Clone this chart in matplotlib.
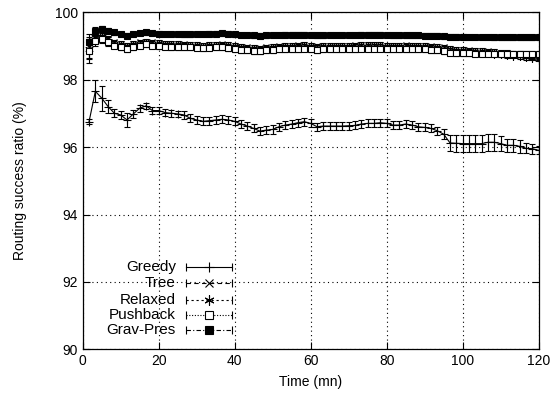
import numpy as np
import matplotlib
matplotlib.use("Agg")
import matplotlib.pyplot as plt

plt.rcParams['font.family'] = ['Liberation Sans', 'DejaVu Sans']

# sampling times (minutes)
times = [1.67, 3.33, 5.0, 6.67, 8.33, 10.0, 11.67, 13.33, 15.0, 16.67, 18.33, 20.0,
         21.67, 23.33, 25.0, 26.67, 28.33, 30.0, 31.67, 33.33, 35.0, 36.67, 38.33, 40.0,
         41.67, 43.33, 45.0, 46.67, 48.33, 50.0, 51.67, 53.33, 55.0, 56.67, 58.33, 60.0,
         61.67, 63.33, 65.0, 66.67, 68.33, 70.0, 71.67, 73.33, 75.0, 76.67, 78.33, 80.0,
         81.67, 83.33, 85.0, 86.67, 88.33, 90.0, 91.67, 93.33, 95.0, 96.67, 98.33, 100.0,
         101.67, 103.33, 105.0, 106.67, 108.33, 110.0, 111.67, 113.33, 115.0, 116.67, 118.33, 120.0]

greedy = [96.75, 97.65, 97.45, 97.2, 97.0, 96.95, 96.8, 96.98, 97.15, 97.22, 97.08, 97.08,
          97.02, 97.0, 96.98, 96.95, 96.85, 96.8, 96.76, 96.78, 96.8, 96.82, 96.8, 96.76,
          96.68, 96.62, 96.55, 96.47, 96.5, 96.52, 96.6, 96.65, 96.68, 96.72, 96.75, 96.7,
          96.6, 96.62, 96.62, 96.62, 96.62, 96.63, 96.64, 96.68, 96.7, 96.7, 96.72, 96.7,
          96.65, 96.65, 96.68, 96.65, 96.6, 96.58, 96.55, 96.48, 96.38, 96.12, 96.11, 96.1,
          96.1, 96.1, 96.1, 96.14, 96.14, 96.1, 96.05, 96.05, 96.02, 95.96, 95.95, 95.9]
greedy_err = [0.08, 0.33, 0.37, 0.2, 0.12, 0.12, 0.22, 0.12, 0.1, 0.08, 0.1, 0.1,
              0.1, 0.1, 0.1, 0.12, 0.12, 0.12, 0.12, 0.12, 0.12, 0.12, 0.12, 0.12,
              0.12, 0.12, 0.12, 0.12, 0.12, 0.12, 0.12, 0.12, 0.12, 0.12, 0.12, 0.12,
              0.12, 0.12, 0.12, 0.12, 0.12, 0.12, 0.12, 0.12, 0.12, 0.12, 0.12, 0.12,
              0.12, 0.12, 0.12, 0.12, 0.12, 0.12, 0.12, 0.12, 0.15, 0.25, 0.25, 0.25,
              0.25, 0.25, 0.25, 0.25, 0.25, 0.22, 0.2, 0.2, 0.2, 0.15, 0.15, 0.12]

tree = [98.95, 99.3, 99.3, 99.2, 99.1, 99.05, 99.0, 99.05, 99.1, 99.12, 99.1, 99.08,
        99.06, 99.05, 99.05, 99.04, 99.03, 99.02, 99.0, 99.02, 99.03, 99.04, 99.02, 99.0,
        98.97, 98.95, 98.93, 98.92, 98.95, 98.97, 98.98, 99.0, 99.0, 99.01, 99.02, 99.0,
        98.98, 98.99, 99.0, 99.0, 99.0, 99.0, 99.01, 99.02, 99.02, 99.02, 99.02, 99.0,
        99.0, 99.0, 99.01, 99.0, 99.0, 98.99, 98.98, 98.97, 98.95, 98.9, 98.88, 98.87,
        98.86, 98.85, 98.84, 98.83, 98.82, 98.8, 98.78, 98.77, 98.75, 98.73, 98.72, 98.7]
tree_err = [0.3, 0.15, 0.12, 0.1, 0.08, 0.08, 0.08, 0.08, 0.08, 0.08, 0.08, 0.08,
            0.08, 0.08, 0.08, 0.08, 0.08, 0.08, 0.08, 0.08, 0.08, 0.08, 0.08, 0.08,
            0.08, 0.08, 0.08, 0.08, 0.08, 0.08, 0.08, 0.08, 0.08, 0.08, 0.08, 0.08,
            0.08, 0.08, 0.08, 0.08, 0.08, 0.08, 0.08, 0.08, 0.08, 0.08, 0.08, 0.08,
            0.08, 0.08, 0.08, 0.08, 0.08, 0.08, 0.08, 0.08, 0.08, 0.08, 0.08, 0.08,
            0.08, 0.08, 0.08, 0.08, 0.08, 0.08, 0.08, 0.08, 0.08, 0.08, 0.08, 0.08]

relaxed = [98.9, 99.25, 99.25, 99.15, 99.05, 99.0, 98.95, 99.0, 99.05, 99.07, 99.05, 99.03,
           99.01, 99.0, 99.0, 98.99, 98.98, 98.97, 98.95, 98.97, 98.98, 98.99, 98.97, 98.95,
           98.92, 98.9, 98.88, 98.87, 98.9, 98.92, 98.93, 98.95, 98.95, 98.96, 98.97, 98.95,
           98.93, 98.94, 98.95, 98.95, 98.95, 98.95, 98.96, 98.97, 98.97, 98.97, 98.97, 98.95,
           98.95, 98.95, 98.96, 98.95, 98.95, 98.94, 98.93, 98.92, 98.9, 98.85, 98.83, 98.82,
           98.81, 98.8, 98.79, 98.78, 98.77, 98.75, 98.73, 98.71, 98.69, 98.67, 98.65, 98.62]
relaxed_err = tree_err

pushback = [98.85, 99.15, 99.2, 99.1, 99.0, 98.95, 98.9, 98.95, 99.0, 99.05, 99.0, 98.98,
            98.97, 98.96, 98.96, 98.95, 98.95, 98.94, 98.93, 98.94, 98.95, 98.95, 98.93, 98.9,
            98.88, 98.86, 98.85, 98.84, 98.86, 98.88, 98.89, 98.9, 98.9, 98.9, 98.91, 98.9,
            98.88, 98.89, 98.9, 98.9, 98.9, 98.9, 98.9, 98.91, 98.91, 98.91, 98.91, 98.9,
            98.9, 98.9, 98.9, 98.9, 98.9, 98.89, 98.88, 98.87, 98.84, 98.8, 98.78, 98.78,
            98.78, 98.77, 98.77, 98.77, 98.77, 98.77, 98.77, 98.76, 98.76, 98.76, 98.76, 98.76]
pushback_err = [0.35, 0.15, 0.12, 0.1, 0.08, 0.08, 0.08, 0.08, 0.08, 0.08, 0.08, 0.08,
                0.08, 0.08, 0.08, 0.08, 0.08, 0.08, 0.08, 0.08, 0.08, 0.08, 0.08, 0.08,
                0.08, 0.08, 0.08, 0.08, 0.08, 0.08, 0.08, 0.08, 0.08, 0.08, 0.08, 0.08,
                0.08, 0.08, 0.08, 0.08, 0.08, 0.08, 0.08, 0.08, 0.08, 0.08, 0.08, 0.08,
                0.08, 0.08, 0.08, 0.08, 0.08, 0.08, 0.08, 0.08, 0.08, 0.08, 0.08, 0.08,
                0.08, 0.08, 0.08, 0.08, 0.08, 0.08, 0.08, 0.08, 0.08, 0.08, 0.08, 0.08]

gravpres = [99.1, 99.45, 99.5, 99.45, 99.4, 99.35, 99.3, 99.35, 99.38, 99.4, 99.38, 99.36,
            99.35, 99.35, 99.35, 99.34, 99.34, 99.35, 99.35, 99.36, 99.36, 99.37, 99.36, 99.34,
            99.32, 99.32, 99.31, 99.3, 99.31, 99.32, 99.32, 99.33, 99.33, 99.33, 99.33, 99.32,
            99.31, 99.31, 99.32, 99.32, 99.32, 99.32, 99.32, 99.33, 99.33, 99.33, 99.33, 99.32,
            99.31, 99.31, 99.31, 99.31, 99.31, 99.3, 99.3, 99.3, 99.28, 99.27, 99.27, 99.27,
            99.26, 99.26, 99.26, 99.26, 99.25, 99.25, 99.25, 99.25, 99.25, 99.25, 99.25, 99.25]
gravpres_err = [0.25, 0.12, 0.1, 0.08, 0.07, 0.07, 0.07, 0.07, 0.07, 0.07, 0.07, 0.07,
                0.07, 0.07, 0.07, 0.07, 0.07, 0.07, 0.07, 0.07, 0.07, 0.07, 0.07, 0.07,
                0.07, 0.07, 0.07, 0.07, 0.07, 0.07, 0.07, 0.07, 0.07, 0.07, 0.07, 0.07,
                0.07, 0.07, 0.07, 0.07, 0.07, 0.07, 0.07, 0.07, 0.07, 0.07, 0.07, 0.07,
                0.07, 0.07, 0.07, 0.07, 0.07, 0.07, 0.07, 0.07, 0.07, 0.07, 0.07, 0.07,
                0.07, 0.07, 0.07, 0.07, 0.07, 0.07, 0.07, 0.07, 0.07, 0.07, 0.07, 0.07]

labels = ["Greedy", "Tree", "Relaxed", "Pushback", "Grav-Pres"]
x_ticks = [0, 20, 40, 60, 80, 100, 120]
y_ticks = [90, 92, 94, 96, 98, 100]

styles = [
    dict(ls='-', marker='+', mfc='black', ms=6),
    dict(ls=(0, (4, 3)), marker='x', mfc='black', ms=4.5),
    dict(ls=(0, (2, 2.5)), marker=(6, 2, 0), mfc='black', ms=6),
    dict(ls=(0, (1, 1.5)), marker='s', mfc='white', ms=4.5),
    dict(ls=(0, (4, 2, 1, 2)), marker='s', mfc='black', ms=4.5),
]
series = [(greedy, greedy_err), (tree, tree_err), (relaxed, relaxed_err),
          (pushback, pushback_err), (gravpres, gravpres_err)]

fig = plt.figure(figsize=(5.55, 3.95), dpi=100)
ax = fig.add_axes([0.149, 0.1152, 0.8216, 0.8544])

for (vals, errs), st in zip(series, styles):
    ax.errorbar(times, vals, yerr=errs, color='black', lw=0.8, elinewidth=0.8,
                capsize=2.2, capthick=0.8, linestyle=st['ls'], marker=st['marker'],
                mfc=st['mfc'], mec='black', ms=st['ms'], mew=0.8)

ax.set_xlim(0, 120)
ax.set_ylim(90, 100)
ax.set_xticks(x_ticks)
ax.set_yticks(y_ticks)
ax.tick_params(direction='in', top=True, right=True, labelsize=10, length=5, width=0.8)
ax.grid(True, color='black', linestyle=(0, (1, 3)), linewidth=0.8)
for s in ax.spines.values():
    s.set_linewidth(0.9)
ax.set_xlabel("Time (mn)", fontsize=10, labelpad=5)
ax.set_ylabel("Routing success ratio (%)", fontsize=10, labelpad=20)

# manual gnuplot-style key
rows_y = [0.243, 0.197, 0.148, 0.103, 0.057]
tx, x1, x2 = 0.2046, 0.2268, 0.3268
xm = (x1 + x2) / 2
for lab, st, yy in zip(labels, styles, rows_y):
    ax.text(tx, yy, lab, transform=ax.transAxes, ha='right', va='center', fontsize=11)
    ax.plot([x1, x2], [yy, yy], transform=ax.transAxes, color='black', lw=0.8,
            linestyle=st['ls'])
    ax.plot([x1, x2], [yy, yy], transform=ax.transAxes, color='black', lw=0,
            marker='|', ms=6, mew=0.8)
    ax.plot([xm], [yy], transform=ax.transAxes, color='black', lw=0,
            marker=st['marker'], mfc=st['mfc'], mec='black', ms=st['ms'] * 1.2, mew=0.8)

fig.savefig("out.png", dpi=100)
